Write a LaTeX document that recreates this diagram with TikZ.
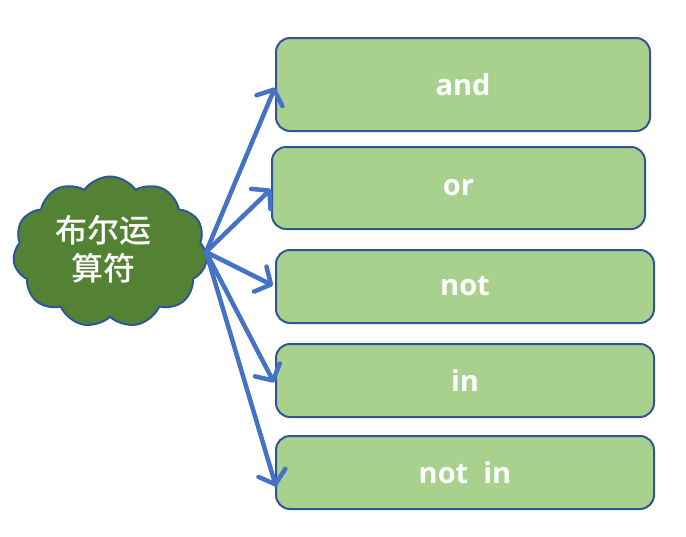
\documentclass[tikz,border=0pt]{standalone}
\usepackage{fontspec}
\setmainfont{Open Sans}
\newfontfamily\cjk[UprightFont=* Medium]{Noto Sans CJK SC}
\usetikzlibrary{shapes.symbols,arrows.meta}
\definecolor{boxfill}{HTML}{A9D18E}
\definecolor{boxline}{HTML}{2F5597}
\definecolor{cloudfill}{HTML}{548235}
\definecolor{arrowblue}{HTML}{4472C4}
\tikzset{
  opbox/.style={draw=boxline, line width=2pt, fill=boxfill, rounded corners=14pt,
    text=white, font=\fontsize{29}{33}\selectfont\bfseries, inner sep=0pt},
  arr/.style={draw=arrowblue, line width=4.5pt, line cap=round,
    -{Straight Barb[length=12pt,width=28pt,line cap=round,line join=round]}},
}
\begin{document}
\begin{tikzpicture}[x=1pt,y=-1pt]
\useasboundingbox (0,0) rectangle (686,536);
\node[cloud, cloud puffs=11, cloud puff arc=110, aspect=1.3, draw=boxline, line width=2pt,
  fill=cloudfill, minimum width=194pt, minimum height=151pt, inner sep=0pt] (c) at (110,252) {};
\node[text=white, align=center, font=\cjk\fontsize{32}{38}\selectfont] (t) at (104,249)
  {布尔运\\算符};
\node[opbox, minimum width=374pt, minimum height=93pt] (b1) at (463,84.5) {and};
\node[opbox, minimum width=373pt, minimum height=82pt] (b2) at (458.5,188) {or};
\node[opbox, minimum width=378pt, minimum height=73pt] (b3) at (465,286.5) {not};
\node[opbox, minimum width=378pt, minimum height=73pt] (b4) at (465,380.5) {in};
\node[opbox, minimum width=378pt, minimum height=73pt] (b5) at (465,472.5) {not\ \ in};
\coordinate (o) at (206,252);
\draw[arr] (o) -- ([yshift=-3pt]b1.west);
\draw[arr] (o) -- ([yshift=-1pt]b2.west);
\draw[arr] (o) -- ([yshift=1pt,xshift=-2pt]b3.west);
\draw[arr] (o) -- ([yshift=-2pt,xshift=-1pt]b4.west);
\draw[arr] (o) -- ([yshift=-14pt,xshift=1pt]b5.west);
\end{tikzpicture}
\end{document}
